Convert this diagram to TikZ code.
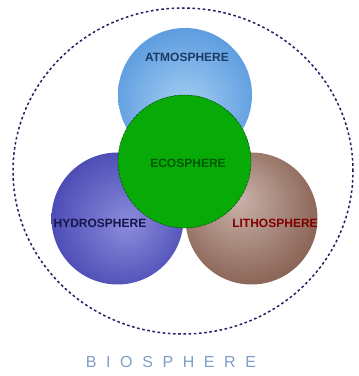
\documentclass[tikz,border=0pt]{standalone}
\usepackage{fontspec}
\newfontfamily\spherefont{Liberation Sans}
\usetikzlibrary{shapes.geometric}

\definecolor{atmoin}{HTML}{A8D0F2}
\definecolor{atmomid}{HTML}{5C9CE0}
\definecolor{atmoout}{HTML}{3676C8}
\definecolor{hydroin}{HTML}{8C8CDC}
\definecolor{hydromid}{HTML}{4A4AB4}
\definecolor{hydroout}{HTML}{26268A}
\definecolor{lithoin}{HTML}{CBB4AC}
\definecolor{lithomid}{HTML}{8C6658}
\definecolor{lithoout}{HTML}{5A3222}
\definecolor{ecofill}{HTML}{08AA08}
\definecolor{biocol}{HTML}{202062}
\definecolor{biotext}{HTML}{7E9EC6}

% Schattierungen der Kugeln
\pgfdeclareradialshading{atmoshade}{\pgfpoint{0bp}{-6bp}}{color(0bp)=(atmoin); color(28bp)=(atmomid); color(50bp)=(atmoout)}
\pgfdeclareradialshading{hydroshade}{\pgfpoint{4bp}{-2bp}}{color(0bp)=(hydroin); color(28bp)=(hydromid); color(50bp)=(hydroout)}
\pgfdeclareradialshading{lithoshade}{\pgfpoint{-6bp}{8bp}}{color(0bp)=(lithoin); color(28bp)=(lithomid); color(50bp)=(lithoout)}

\begin{document}
\begin{tikzpicture}[x=1pt,y=1pt,
  sphere/.style={circle,minimum size=#1,inner sep=0pt},
  spherelabel/.style={font=\spherefont\bfseries\fontsize{12}{13}\selectfont}]

\useasboundingbox (0,0) rectangle (359,376);

% Biosphaere (gestrichelte Ellipse)
\node (bio) at (183,205) [ellipse,minimum width=340,minimum height=326,inner sep=0pt,
  draw=biocol,line width=1.5pt,dash pattern=on 2.6pt off 2.6pt] {};

% Hydrosphaere und Lithosphaere
\node (hydro) at (117.5,157.5) [sphere=132,shading=hydroshade] {};
\node (litho) at (251.5,157.5) [sphere=132,shading=lithoshade] {};

% Atmosphaere
\node (atmo) at (185,281) [sphere=134,shading=atmoshade] {};

% Oekosphaere
\node (eco) at (184.5,214.5) [sphere=133,fill=ecofill,draw=green!25!black,
  line width=0.4pt,dash pattern=on 3pt off 1pt] {};

% Beschriftungen
\node (atmolabel) at (187,319) [spherelabel,text=atmoout!50!black] {ATMOSPHERE};
\node (ecolabel) at (188,213) [spherelabel,text=green!35!black] {ECOSPHERE};
\node (hydrolabel) at (100,153) [spherelabel,text=hydroout!55!black] {HYDROSPHERE};
\node (litholabel) at (275,153) [spherelabel,text=red!50!black] {LITHOSPHERE};

\node (biolabel) at (171,14) [font=\spherefont\fontsize{16}{18}\selectfont\addfontfeature{LetterSpace=60},
  text=biotext] {BIOSPHERE};

\end{tikzpicture}
\end{document}
